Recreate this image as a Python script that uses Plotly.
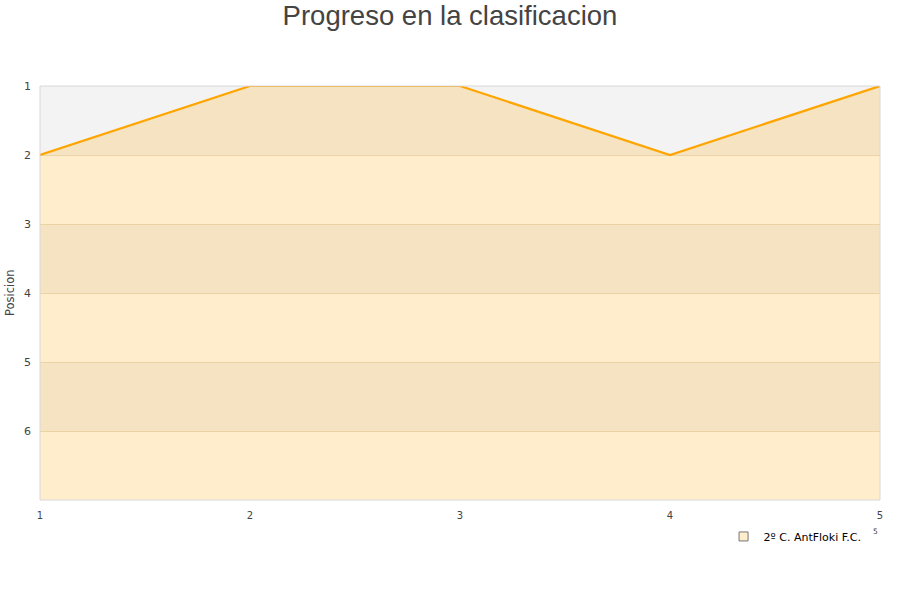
import plotly.graph_objects as go

jornadas = [1, 2, 3, 4, 5]
posiciones = [2, 1, 1, 2, 1]
equipo = "2º C. AntFloki F.C."
titulo = "Progreso en la clasificacion"
y_ticks = [1, 2, 3, 4, 5, 6]
y_min, y_max = 1, 7

fig = go.Figure()

# baseline for fill (bottom of the axis)
fig.add_trace(go.Scatter(x=jornadas, y=[y_max] * len(jornadas), mode="lines",
                         line=dict(width=0, color="rgba(0,0,0,0)"),
                         showlegend=False, hoverinfo="skip"))
fig.add_trace(go.Scatter(x=jornadas, y=posiciones, mode="lines", name=equipo,
                         line=dict(color="#ffa500", width=2.2),
                         fill="tonexty", fillcolor="rgba(255,165,0,0.2)",
                         showlegend=False))
# legend entry
fig.add_trace(go.Scatter(x=[None], y=[None], mode="markers", name=equipo,
                         marker=dict(symbol="square", size=9, color="#ffedcc",
                                     line=dict(color="#777777", width=1))))

shapes = []
for i in range(y_min, y_max):
    if (i - y_min) % 2 == 0:
        shapes.append(dict(type="rect", xref="paper", yref="y", x0=0, x1=1,
                           y0=i, y1=i + 1, fillcolor="#f3f3f3",
                           line=dict(width=0), layer="below"))
shapes.append(dict(type="rect", xref="paper", yref="paper", x0=0, x1=1, y0=0, y1=1,
                   line=dict(color="#d8d8d8", width=1), layer="above"))

annotations = [
    dict(text="Posicion", xref="paper", yref="paper", x=-0.0357, y=0.5,
         xanchor="center", yanchor="middle", textangle=-90, showarrow=False,
         font=dict(family="DejaVu Sans", size=11.5, color="#444444")),
    dict(text="5", xref="paper", yref="paper", x=0.995, y=-0.077,
         xanchor="center", yanchor="middle", showarrow=False,
         font=dict(family="DejaVu Sans", size=7.5, color="#444444")),
]

fig.update_layout(
    width=900, height=600,
    margin=dict(l=40, r=20, t=86, b=100, autoexpand=False),
    paper_bgcolor="white", plot_bgcolor="white",
    title=dict(text=titulo, x=0.5, xanchor="center", y=0.975, yanchor="middle",
               font=dict(family="Liberation Sans, Arial", size=27.5, color="#444444")),
    shapes=shapes,
    annotations=annotations,
    showlegend=True,
    legend=dict(orientation="h", x=0.984, xanchor="right", y=-0.053, yanchor="top",
                font=dict(family="DejaVu Sans", size=11, color="#000000"),
                bgcolor="rgba(0,0,0,0)"),
    font=dict(family="DejaVu Sans", size=10, color="#444444"),
)
fig.update_xaxes(range=[1, 5], tickvals=jornadas, ticktext=[str(j) for j in jornadas],
                 showgrid=False, zeroline=False, showline=False, automargin=False,
                 ticks="", ticklabelstandoff=8,
                 tickfont=dict(family="DejaVu Sans", size=10, color="#444444"))
fig.update_yaxes(range=[y_max, y_min], tickvals=y_ticks,
                 showgrid=True, gridcolor="#e6dfcf", gridwidth=1, zeroline=False,
                 showline=False, ticks="", ticklabelstandoff=8, automargin=False,
                 tickfont=dict(family="DejaVu Sans", size=11, color="#444444"))

fig.write_html("out.html", config={"displayModeBar": False},
               post_script="document.body.style.margin='0';document.body.style.overflow='hidden';")
